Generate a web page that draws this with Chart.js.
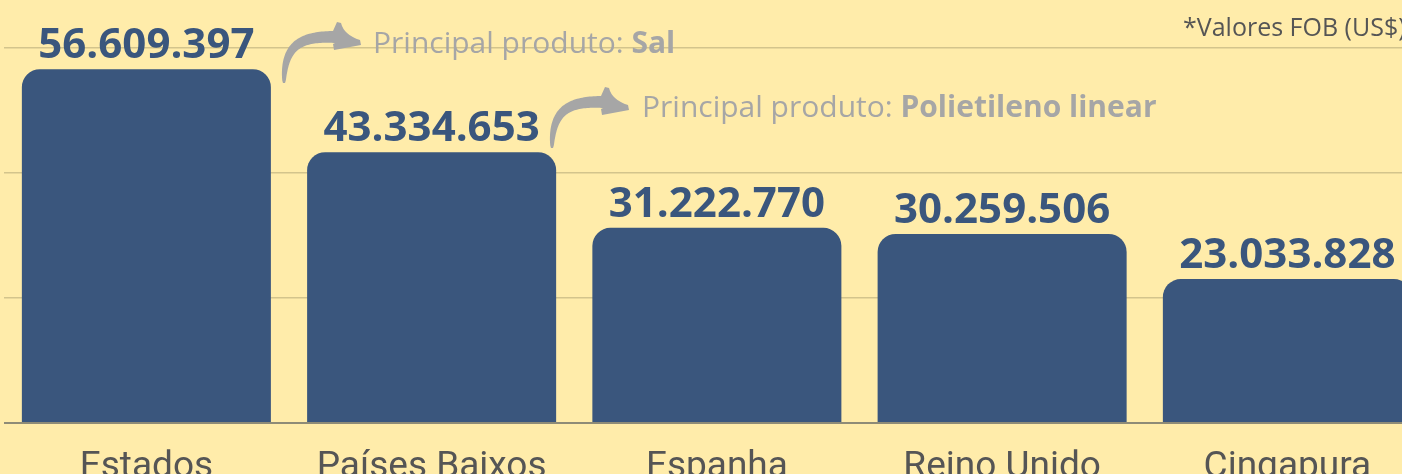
<!DOCTYPE html>
<html>
<head>
<meta charset="utf-8">
<script src="https://cdn.jsdelivr.net/npm/chart.js@4.4.1/dist/chart.umd.min.js"></script>
<style>
  html, body { margin:0; padding:0; background:#FFECAA; overflow:hidden; }
  #wrap { position:relative; width:1440px; height:474px; }
</style>
</head>
<body>
<div id="wrap"><canvas id="c"></canvas></div>
<script>
const categories = [["Estados","Unidos"], "Países Baixos", "Espanha", "Reino Unido", "Cingapura"];
const values = [56609397, 43334653, 31222770, 30259506, 23033828];
const gridTicks = [0, 20000000, 40000000, 60000000];
const yMax = 67680000;
const note = "*Valores FOB (US$)";
const annotationPrefix = "Principal produto: ";
const annotationProducts = ["Sal", "Polietileno linear"];
const annotationText = [[373, 53], [642, 117]];
const arrowOrigins = [[284, 83], [552, 148]];

const BAR = '#3A567D';
const GRAY = '#A6A6A6';

function fmt(v) {
  return String(v).replace(/\B(?=(\d{3})+(?!\d))/g, '.');
}

function drawArrow(ctx, ox, oy) {
  const p0 = [0, 0], p1 = [0, -38], p2 = [16, -47], p3 = [52, -46];
  const N = 50, left = [], right = [];
  for (let i = 0; i <= N; i++) {
    const t = i / N, u = 1 - t;
    const x = u*u*u*p0[0] + 3*u*u*t*p1[0] + 3*u*t*t*p2[0] + t*t*t*p3[0];
    const y = u*u*u*p0[1] + 3*u*u*t*p1[1] + 3*u*t*t*p2[1] + t*t*t*p3[1];
    const dx = 3*u*u*(p1[0]-p0[0]) + 6*u*t*(p2[0]-p1[0]) + 3*t*t*(p3[0]-p2[0]);
    const dy = 3*u*u*(p1[1]-p0[1]) + 6*u*t*(p2[1]-p1[1]) + 3*t*t*(p3[1]-p2[1]);
    const L = Math.hypot(dx, dy) || 1;
    const w = 1 + 5 * Math.sqrt(t);
    left.push([ox + x - dy / L * w, oy + y + dx / L * w]);
    right.push([ox + x + dy / L * w, oy + y - dx / L * w]);
  }
  ctx.save();
  ctx.fillStyle = GRAY;
  ctx.beginPath();
  ctx.moveTo(left[0][0], left[0][1]);
  left.forEach(p => ctx.lineTo(p[0], p[1]));
  for (let i = right.length - 1; i >= 0; i--) ctx.lineTo(right[i][0], right[i][1]);
  ctx.closePath();
  ctx.fill();
  // head
  ctx.beginPath();
  ctx.moveTo(ox + 49, oy - 52);
  ctx.lineTo(ox + 53, oy - 61);
  ctx.lineTo(ox + 57, oy - 60);
  ctx.quadraticCurveTo(ox + 60, oy - 48, ox + 76, oy - 43);
  ctx.lineTo(ox + 77, oy - 38);
  ctx.lineTo(ox + 50, oy - 33);
  ctx.lineTo(ox + 49, oy - 39);
  ctx.lineTo(ox + 51, oy - 40);
  ctx.closePath();
  ctx.fill();
  ctx.restore();
}

const decor = {
  id: 'decor',
  afterDatasetsDraw(chart) {
    const ctx = chart.ctx;
    const meta = chart.getDatasetMeta(0);
    ctx.save();
    ctx.fillStyle = BAR;
    ctx.font = 'bold 42px "Open Sans"';
    ctx.textAlign = 'center';
    ctx.textBaseline = 'alphabetic';
    meta.data.forEach((bar, i) => {
      ctx.fillText(fmt(values[i]), bar.x, bar.y - 11);
    });
    ctx.textAlign = 'left';
    annotationProducts.forEach((prod, i) => {
      const [x, y] = annotationText[i];
      ctx.fillStyle = GRAY;
      ctx.font = '30px "Open Sans"';
      ctx.fillText(annotationPrefix, x, y);
      const w = ctx.measureText(annotationPrefix).width;
      ctx.font = 'bold 30px "Open Sans"';
      ctx.fillText(prod, x + w, y);
      drawArrow(ctx, arrowOrigins[i][0], arrowOrigins[i][1]);
    });
    ctx.fillStyle = '#555555';
    ctx.font = '25px "Open Sans"';
    ctx.fillText(note, 1183, 36);
    ctx.restore();
  }
};

new Chart(document.getElementById('c'), {
  type: 'bar',
  data: {
    labels: categories,
    datasets: [{
      data: values,
      backgroundColor: BAR,
      borderRadius: { topLeft: 18, topRight: 18, bottomLeft: 0, bottomRight: 0 },
      borderSkipped: 'bottom',
      barPercentage: 0.873,
      categoryPercentage: 1
    }]
  },
  options: {
    responsive: true,
    maintainAspectRatio: false,
    animation: false,
    events: [],
    layout: { padding: { left: 3.75, right: 10, top: 0, bottom: 0 } },
    plugins: { legend: { display: false }, tooltip: { enabled: false } },
    scales: {
      x: {
        grid: { display: false, drawTicks: false },
        border: { display: false },
        ticks: {
          color: '#555555',
          font: { family: 'Roboto', size: 37 },
          padding: 23,
          maxRotation: 0,
          autoSkip: false
        },
        afterFit(scale) { scale.height = 51; }
      },
      y: {
        min: 0,
        max: yMax,
        display: true,
        afterBuildTicks(scale) { scale.ticks = gridTicks.map(v => ({ value: v })); },
        ticks: { display: false },
        border: { display: false },
        grid: {
          drawTicks: false,
          color: ctx => ctx.tick && ctx.tick.value === 0 ? '#8E8B77' : '#D3C48C',
          lineWidth: ctx => ctx.tick && ctx.tick.value === 0 ? 2 : 1.5
        },
        afterFit(scale) { scale.width = 0; }
      }
    }
  },
  plugins: [decor]
});
</script>
</body>
</html>
